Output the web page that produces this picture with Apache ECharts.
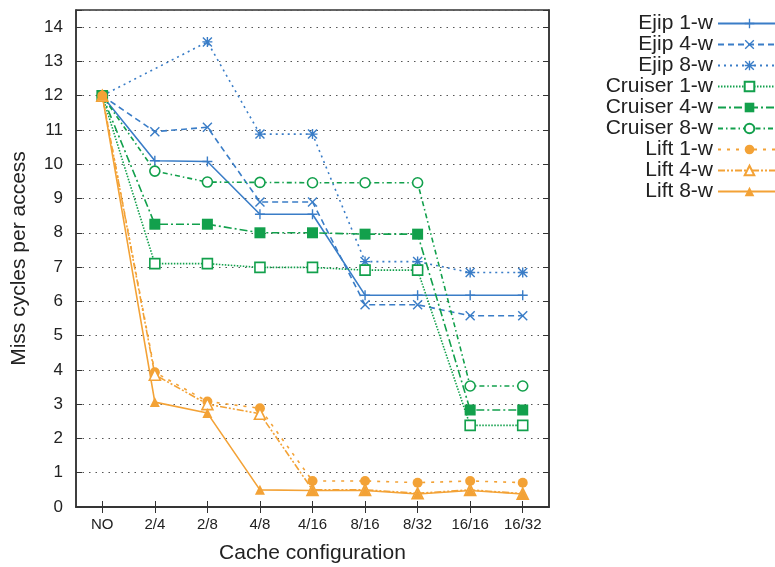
<!DOCTYPE html>
<html><head><meta charset="utf-8">
<script src="https://cdn.jsdelivr.net/npm/echarts@6/dist/echarts.min.js"></script>
<style>html,body{margin:0;padding:0;background:#fff;overflow:hidden}#c{width:775px;height:567px}</style>
</head><body><div id="c"></div>
<script>
const categories = ['NO','2/4','2/8','4/8','4/16','8/16','8/32','16/16','16/32'];
const seriesNames = ['Ejip 1-w','Ejip 4-w','Ejip 8-w','Cruiser 1-w','Cruiser 4-w','Cruiser 8-w','Lift 1-w','Lift 4-w','Lift 8-w'];
const ejip1 = [12, 10.1, 10.08, 8.54, 8.54, 6.18, 6.18, 6.18, 6.18];
const ejip4 = [12, 10.95, 11.08, 8.9, 8.9, 5.9, 5.9, 5.58, 5.58];
const ejip8 = [12, null, 13.57, 10.88, 10.88, 7.16, 7.16, 6.84, 6.84];
const cruiser1 = [12, 7.1, 7.1, 6.99, 6.99, 6.91, 6.91, 2.38, 2.38];
const cruiser4 = [12, 8.25, 8.25, 8.0, 8.0, 7.96, 7.96, 2.83, 2.83];
const cruiser8 = [12, 9.8, 9.48, 9.47, 9.46, 9.46, 9.46, 3.53, 3.53];
const lift1 = [12, 3.93, 3.08, 2.88, 0.76, 0.76, 0.71, 0.76, 0.71];
const lift4 = [12, 3.86, 3.0, 2.72, 0.5, 0.5, 0.4, 0.5, 0.39];
const lift8 = [12, 3.06, 2.74, 0.5, 0.48, 0.48, 0.38, 0.48, 0.38];
const yTicks = [0,1,2,3,4,5,6,7,8,9,10,11,12,13,14];

const BLUE = '#3a7dc7', GREEN = '#12a04c', ORANGE = '#f3a236';
const PLUS = 'path://M4.3,0h1.4v4.3h4.3v1.4h-4.3v4.3h-1.4v-4.3h-4.3v-1.4h4.3z';
const CROSS = 'path://M1,0L5,4L9,0L10,1L6,5L10,9L9,10L5,6L1,10L0,9L4,5L0,1z';
const STAR = 'path://M1,0L5,4L9,0L10,1L6,5L10,9L9,10L5,6L1,10L0,9L4,5L0,1zM4.3,0h1.4v10h-1.4zM0,4.3h10v1.4h-10z';
const FONT = '"Liberation Sans", Arial, Helvetica, sans-serif';

function mk(name, data, color, dash, symbol, size, hollow) {
  return {
    name, type: 'line', data, connectNulls: true,
    symbol, symbolSize: size, showAllSymbol: true,
    lineStyle: { color, width: 1.6, type: dash },
    itemStyle: hollow ? { color: '#fff', borderColor: color, borderWidth: 1.6 } : { color, borderColor: color, borderWidth: 0 },
    emphasis: { disabled: true },
    z: 2
  };
}

const series = [
  mk(seriesNames[0], ejip1, BLUE, 'solid', PLUS, 10, false),
  mk(seriesNames[1], ejip4, BLUE, [6,4], CROSS, 10, false),
  mk(seriesNames[2], ejip8, BLUE, [2,4], STAR, 10, false),
  mk(seriesNames[3], cruiser1, GREEN, [1.5,1.5], 'rect', 10, true),
  mk(seriesNames[4], cruiser4, GREEN, [8,3,2,3], 'rect', 11, false),
  mk(seriesNames[5], cruiser8, GREEN, [5,3,1.5,3], 'circle', 10, true),
  mk(seriesNames[6], lift1, ORANGE, [3,6], 'circle', 10, false),
  mk(seriesNames[7], lift4, ORANGE, [7,2,2,2,2,2], 'triangle', 11, true),
  mk(seriesNames[8], lift8, ORANGE, 'solid', 'triangle', 10, false)
];

const chart = echarts.init(document.getElementById('c'), null, { renderer: 'canvas', width: 775, height: 567 });
chart.setOption({
  animation: false,
  backgroundColor: '#fff',
  textStyle: { fontFamily: FONT },
  grid: { left: 76, right: 226, top: 10, bottom: 60, containLabel: false, outerBoundsMode: 'none',
    show: true, borderColor: '#333', borderWidth: 1.5, backgroundColor: 'transparent' },
  legend: {
    orient: 'vertical', right: -12, top: 8, align: 'right',
    itemWidth: 63, itemHeight: 12, itemGap: 0,
    textStyle: { fontSize: 21, lineHeight: 21, color: '#222', fontFamily: FONT },
    data: seriesNames
  },
  xAxis: [{
    type: 'category', data: categories, boundaryGap: true, position: 'bottom',
    name: 'Cache configuration', nameLocation: 'middle', nameGap: 36,
    nameTextStyle: { fontSize: 21, color: '#222', fontFamily: FONT },
    axisLine: { show: true, lineStyle: { color: '#333', width: 1.5 } },
    axisTick: { show: true, inside: true, alignWithLabel: true, length: 6, lineStyle: { color: '#333', width: 1 } },
    axisLabel: { fontSize: 15, color: '#222', margin: 10, interval: 0, fontFamily: FONT },
    splitLine: { show: false }
  }, {
    type: 'category', data: categories, boundaryGap: true, position: 'top',
    axisLine: { show: true, lineStyle: { color: '#333', width: 1.5 } },
    axisTick: { show: true, inside: true, alignWithLabel: true, length: 6, lineStyle: { color: '#333', width: 1 } },
    axisLabel: { show: false }, splitLine: { show: false }
  }],
  yAxis: [{
    type: 'value', min: 0, max: 14.5, interval: 1, position: 'left',
    name: 'Miss cycles per access', nameLocation: 'middle', nameGap: 46,
    nameTextStyle: { fontSize: 21, color: '#222', fontFamily: FONT },
    axisLine: { show: true, lineStyle: { color: '#333', width: 1.5 } },
    axisTick: { show: true, inside: true, length: 6, lineStyle: { color: '#333', width: 1 } },
    axisLabel: { fontSize: 17, color: '#222', margin: 13, fontFamily: FONT,
      formatter: v => (yTicks.indexOf(v) >= 0 ? String(v) : '') },
    splitLine: { show: true, lineStyle: { color: '#555', width: 1, type: [1.5, 5] } }
  }, {
    type: 'value', min: 0, max: 14.5, interval: 1, position: 'right',
    axisLine: { show: true, lineStyle: { color: '#333', width: 1.5 } },
    axisTick: { show: true, inside: true, length: 6, lineStyle: { color: '#333', width: 1 } },
    axisLabel: { show: false }, splitLine: { show: false }
  }],
  series
});
</script></body></html>
